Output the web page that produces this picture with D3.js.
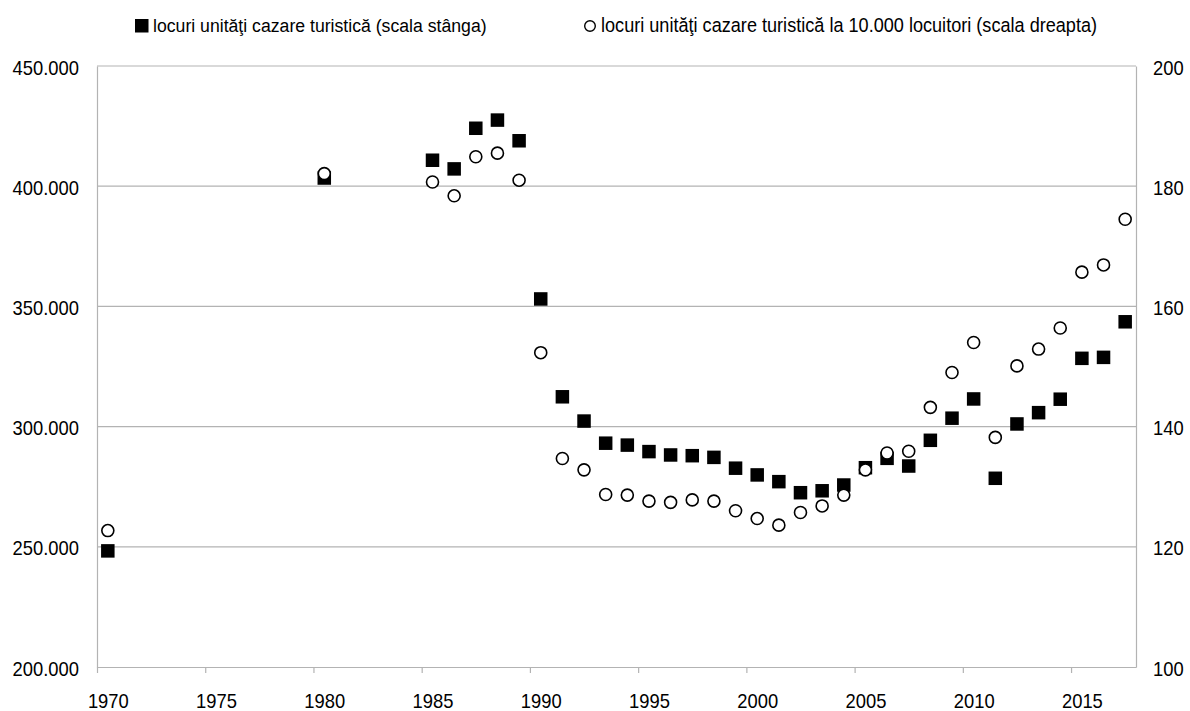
<!DOCTYPE html>
<html lang="ro">
<head>
<meta charset="UTF-8">
<title>Locuri unitati cazare turistica</title>
<script src="https://d3js.org/d3.v7.min.js"></script>
<style>
  body { margin: 0; background: #fff; }
  svg text { font-family: "Liberation Sans", Arial, Helvetica, sans-serif; font-size: 20px; fill: #000; }
</style>
</head>
<body>
<svg id="chart" width="1190" height="711"></svg>
<script>
// years with data
var years = [1970, 1980, 1985, 1986, 1987, 1988, 1989, 1990, 1991, 1992, 1993, 1994,
             1995, 1996, 1997, 1998, 1999, 2000, 2001, 2002, 2003, 2004, 2005, 2006,
             2007, 2008, 2009, 2010, 2011, 2012, 2013, 2014, 2015, 2016, 2017];

// locuri unitati cazare turistica (scala stanga)
var locuri = [248300, 403400, 410800, 407200, 424100, 427500, 418900, 353100, 312400, 302300,
              293100, 292300, 289600, 288200, 287900, 287200, 282700, 279900, 277100, 272500,
              273300, 275700, 282900, 286800, 283600, 294300, 303500, 311500, 278500, 301100,
              305800, 311400, 328400, 328800, 343600];

// locuri la 10.000 locuitori (scala dreapta)
var locuriLa10k = [122.7, 182.1, 180.7, 178.4, 184.9, 185.5, 181.0, 152.3, 134.7, 132.8,
                   128.7, 128.6, 127.6, 127.4, 127.8, 127.6, 126.0, 124.7, 123.6, 125.7,
                   126.8, 128.6, 132.8, 135.6, 135.9, 143.2, 149.0, 154.0, 138.2, 150.1,
                   152.9, 156.4, 165.7, 166.9, 174.5];

var xTicks = [1970, 1975, 1980, 1985, 1990, 1995, 2000, 2005, 2010, 2015];
var leftTicks = [200000, 250000, 300000, 350000, 400000, 450000];
var rightTicks = [100, 120, 140, 160, 180, 200];

var legendLabels = ["locuri unităţi cazare turistică (scala stânga)",
                    "locuri unităţi cazare turistică la 10.000 locuitori (scala dreapta)"];

var svg = d3.select("#chart"),
    pL = 97, pR = 1136, pT = 66, pB = 667,
    squeeze = 0.92,
    grey = "#b3b3b3";

var x = d3.scaleLinear().domain([1970, 2018]).range([pL, pR]);
var yL = d3.scaleLinear().domain([200000, 450000]).range([pB, pT]);
var yR = d3.scaleLinear().domain([100, 200]).range([pB, pT]);

var fmt = function (d) { return d3.format(",")(d).replace(/,/g, "."); };
var half = x(1970.5) - x(1970);

// narrow the text a bit, like the original
function narrow(sel) {
  sel.each(function () {
    var t = d3.select(this), tx = +t.attr("x") || 0;
    t.attr("transform", "translate(" + tx + ",0) scale(" + squeeze + ",1) translate(" + (-tx) + ",0)");
  });
}

// gridlines
svg.append("g").selectAll("line")
  .data(leftTicks.slice(1))
  .join("line")
  .attr("x1", pL).attr("x2", pR)
  .attr("y1", function (d) { return yL(d); })
  .attr("y2", function (d) { return yL(d); })
  .attr("stroke", grey).attr("stroke-width", 1.2);

// left axis
var gL = svg.append("g").attr("transform", "translate(" + pL + ",0)")
  .call(d3.axisLeft(yL).tickValues(leftTicks).tickFormat(fmt).tickSize(0).tickPadding(18));
gL.attr("font-size", null).attr("font-family", null);
gL.select(".domain").attr("stroke", grey).attr("stroke-width", 1.2);
gL.selectAll("text").attr("dy", "8px");
narrow(gL.selectAll("text"));

// right axis
var gR = svg.append("g").attr("transform", "translate(" + pR + ",0)")
  .call(d3.axisRight(yR).tickValues(rightTicks).tickSize(0).tickPadding(17));
gR.attr("font-size", null).attr("font-family", null);
gR.select(".domain").attr("stroke", grey).attr("stroke-width", 1.2);
gR.selectAll("text").attr("dy", "8px");
narrow(gR.selectAll("text"));

// bottom axis: ticks at year, labels centred on the middle of the year
var gB = svg.append("g").attr("transform", "translate(0," + pB + ")")
  .call(d3.axisBottom(x).tickValues(xTicks).tickFormat(d3.format("d")).tickSize(6).tickSizeOuter(0));
gB.attr("font-size", null).attr("font-family", null);
gB.select(".domain").attr("stroke", grey).attr("stroke-width", 1.2);
gB.selectAll(".tick line").attr("stroke", grey).attr("stroke-width", 1.2);
gB.selectAll("text").attr("x", half).attr("y", 41).attr("dy", null);
narrow(gB.selectAll("text"));

// squares (left scale)
var sq = 13.5;
svg.append("g").selectAll("rect")
  .data(years)
  .join("rect")
  .attr("x", function (d) { return x(d + 0.5) - sq / 2; })
  .attr("y", function (d, i) { return yL(locuri[i]) - sq / 2; })
  .attr("width", sq).attr("height", sq)
  .attr("fill", "#000");

// circles (right scale)
svg.append("g").selectAll("circle")
  .data(years)
  .join("circle")
  .attr("cx", function (d) { return x(d + 0.5); })
  .attr("cy", function (d, i) { return yR(locuriLa10k[i]); })
  .attr("r", 6)
  .attr("fill", "#fff").attr("stroke", "#000").attr("stroke-width", 1.6);

// legend
var lg = svg.append("g");
lg.append("rect").attr("x", 135).attr("y", 19).attr("width", 13.5).attr("height", 13.5).attr("fill", "#000");
lg.append("text").attr("x", 153).attr("y", 32.5).style("font-size", "19.2px").text(legendLabels[0]);
lg.append("circle").attr("cx", 590).attr("cy", 26).attr("r", 5.3)
  .attr("fill", "#fff").attr("stroke", "#000").attr("stroke-width", 1.4);
lg.append("text").attr("x", 601).attr("y", 32.5).style("font-size", "19.7px").text(legendLabels[1]);
narrow(lg.selectAll("text"));
</script>
</body>
</html>
